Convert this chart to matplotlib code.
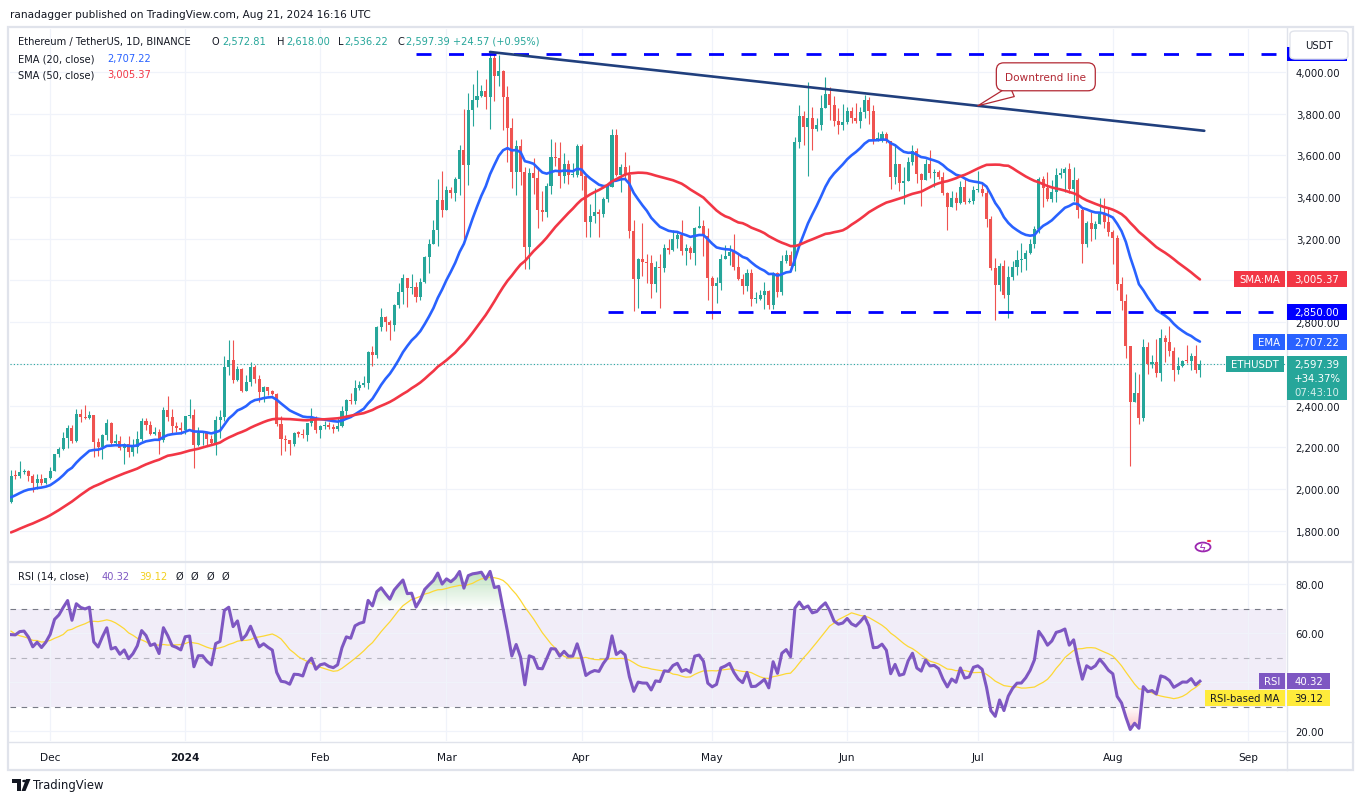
import numpy as np
import pandas as pd
import matplotlib
matplotlib.use("Agg")
import matplotlib.pyplot as plt
from matplotlib.patches import Rectangle, FancyBboxPatch, Circle, Polygon
from matplotlib.colors import LinearSegmentedColormap
from matplotlib.path import Path

plt.rcParams['font.family'] = ['DejaVu Sans']

W, H = 1362, 804

# ---------------- data (ETH/USDT daily) ----------------
start_date = "2023-11-22"
end_date = "2024-08-21"

# closes of Oct 1 - Nov 21 2023, only used to warm up EMA/SMA/RSI
warmup_close = [1733, 1663, 1655, 1647, 1611, 1645, 1633, 1633, 1580, 1567,
                1566, 1539, 1553, 1555, 1557, 1599, 1565, 1563, 1565, 1605,
                1628, 1665, 1768, 1786, 1785, 1801, 1778, 1776, 1792, 1809, 1815,
                1846, 1796, 1832, 1858, 1893, 1899, 1886, 1889, 2121, 2077,
                2053, 2045, 2055, 1980, 2058, 1960, 1961, 1962, 2012, 2022, 1937]

close = [
    # Nov
    2063, 2062, 2081, 2084, 2063, 2027, 2048, 2029, 2052,
    # Dec
    2087, 2166, 2193, 2243, 2294, 2232, 2358, 2345, 2340, 2353,
    2225, 2202, 2260, 2316, 2220, 2229, 2196, 2218, 2177, 2201,
    2240, 2327, 2307, 2265, 2274, 2233, 2381, 2346, 2300, 2292, 2281,
    # Jan
    2352, 2356, 2210, 2268, 2268, 2240, 2222, 2331, 2344, 2585,
    2618, 2524, 2576, 2472, 2511, 2587, 2528, 2467, 2490, 2470,
    2454, 2311, 2241, 2235, 2218, 2268, 2266, 2257, 2317, 2343, 2283,
    # Feb
    2304, 2309, 2296, 2290, 2301, 2372, 2425, 2420, 2486, 2500,
    2507, 2659, 2641, 2777, 2823, 2803, 2785, 2881, 2945, 3014,
    2966, 2971, 2922, 2992, 3112, 3176, 3243, 3385, 3340,
    # Mar
    3433, 3421, 3488, 3628, 3554, 3818, 3867, 3885, 3910, 3878,
    4066, 3983, 4005, 3882, 3730, 3520, 3644, 3520, 3159, 3516,
    3492, 3336, 3329, 3455, 3590, 3586, 3502, 3561, 3508, 3508, 3647,
    # Apr
    3503, 3279, 3311, 3330, 3319, 3393, 3450, 3697, 3505, 3544,
    3505, 3238, 3005, 3101, 3087, 3085, 2985, 3067, 3058, 3154,
    3148, 3199, 3218, 3141, 3155, 3130, 3254, 3263, 3215, 3012,
    # May
    2972, 2988, 3103, 3117, 3136, 3063, 3006, 2974, 3036, 2910,
    2912, 2930, 2950, 2881, 3037, 2945, 3093, 3123, 3071, 3662,
    3788, 3738, 3780, 3727, 3748, 3826, 3893, 3841, 3767, 3746, 3760,
    # Jun
    3813, 3780, 3767, 3810, 3865, 3813, 3678, 3681, 3705, 3668,
    3498, 3561, 3470, 3478, 3566, 3621, 3509, 3484, 3559, 3515,
    3518, 3495, 3418, 3354, 3396, 3371, 3449, 3375, 3381, 3433,
    # Jul
    3441, 3420, 3296, 3058, 2980, 3068, 2930, 3017, 3067, 3100,
    3101, 3132, 3177, 3245, 3485, 3443, 3389, 3426, 3505, 3517,
    3536, 3439, 3482, 3337, 3174, 3275, 3249, 3270, 3318, 3279, 3232,
    # Aug
    3204, 2985, 2904, 2687, 2418, 2460, 2341, 2682, 2598, 2608,
    2555, 2722, 2703, 2662, 2571, 2592, 2614, 2612, 2637, 2572.82, 2597.39,
]

high = [
    2090, 2091, 2133, 2095, 2092, 2070, 2071, 2070, 2055,
    2105, 2170, 2200, 2273, 2308, 2308, 2386, 2384, 2404, 2375,
    2355, 2243, 2262, 2334, 2320, 2265, 2253, 2223, 2256, 2242,
    2280, 2340, 2339, 2325, 2297, 2290, 2391, 2445, 2386, 2320, 2322,
    2352, 2431, 2385, 2295, 2280, 2270, 2260, 2350, 2380, 2640,
    2717, 2715, 2590, 2580, 2545, 2611, 2593, 2547, 2493, 2475,
    2475, 2460, 2349, 2257, 2236, 2273, 2280, 2290, 2317, 2390, 2352,
    2307, 2328, 2320, 2310, 2342, 2398, 2433, 2461, 2521, 2516,
    2542, 2664, 2688, 2784, 2866, 2832, 2812, 2888, 2986, 3033,
    3013, 3033, 2993, 3011, 3118, 3199, 3288, 3488, 3523,
    3451, 3448, 3495, 3650, 3823, 3900, 3942, 4010, 3936, 3966,
    4087, 4093, 4083, 4010, 3934, 3780, 3676, 3680, 3545, 3540,
    3589, 3542, 3431, 3468, 3678, 3664, 3665, 3612, 3580, 3563, 3653,
    3655, 3507, 3368, 3444, 3345, 3401, 3466, 3728, 3725, 3557,
    3616, 3555, 3288, 3110, 3278, 3125, 3123, 3092, 3128, 3175,
    3200, 3240, 3233, 3292, 3174, 3166, 3258, 3356, 3288, 3250,
    3022, 3016, 3128, 3171, 3170, 3222, 3130, 3030, 3057, 3053,
    2945, 2955, 2995, 2955, 3041, 3043, 3120, 3146, 3140, 3690,
    3841, 3813, 3950, 3830, 3780, 3890, 3975, 3928, 3884, 3825, 3847,
    3833, 3830, 3850, 3832, 3888, 3880, 3840, 3710, 3718, 3713,
    3670, 3656, 3560, 3542, 3590, 3649, 3635, 3516, 3582, 3627,
    3536, 3530, 3518, 3424, 3430, 3424, 3475, 3490, 3397, 3455,
    3524, 3464, 3434, 3311, 3108, 3082, 3097, 3068, 3094, 3146,
    3180, 3148, 3199, 3263, 3497, 3500, 3518, 3484, 3541, 3538,
    3544, 3563, 3543, 3491, 3346, 3285, 3327, 3283, 3397, 3395, 3350,
    3240, 3219, 3015, 2933, 2687, 2559, 2553, 2720, 2705, 2643,
    2720, 2765, 2740, 2780, 2679, 2631, 2618, 2690, 2650, 2690, 2618,
]

low = [
    1932, 2050, 2055, 2074, 2040, 1988, 1999, 2019, 2023,
    2049, 2085, 2152, 2188, 2196, 2220, 2226, 2320, 2338, 2335,
    2155, 2157, 2143, 2233, 2212, 2211, 2188, 2118, 2155, 2156,
    2175, 2230, 2282, 2257, 2257, 2168, 2225, 2325, 2267, 2275, 2263,
    2266, 2341, 2100, 2205, 2213, 2205, 2215, 2162, 2247, 2325,
    2545, 2510, 2518, 2466, 2470, 2495, 2507, 2419, 2418, 2450,
    2450, 2300, 2165, 2180, 2165, 2204, 2251, 2243, 2231, 2300, 2270,
    2243, 2288, 2288, 2267, 2277, 2295, 2342, 2408, 2410, 2473,
    2491, 2481, 2588, 2626, 2757, 2760, 2717, 2760, 2868, 2887,
    2873, 2934, 2899, 2907, 2988, 3035, 3173, 3166, 3306,
    3340, 3395, 3381, 3412, 3200, 3460, 3740, 3830, 3878, 3823,
    3728, 3860, 3932, 3720, 3570, 3444, 3408, 3456, 3053, 3056,
    3413, 3251, 3287, 3303, 3416, 3549, 3445, 3466, 3461, 3495, 3498,
    3435, 3210, 3209, 3275, 3211, 3305, 3377, 3447, 3500, 3425,
    3480, 3203, 2852, 2870, 3022, 2988, 2916, 2945, 2868, 3040,
    3125, 3142, 3158, 3120, 3076, 3105, 3075, 3252, 3117, 2908,
    2817, 2892, 2955, 3102, 3075, 3050, 3000, 2936, 2952, 2880,
    2890, 2906, 2863, 2863, 2864, 2921, 2930, 3085, 3060, 3046,
    3636, 3650, 3500, 3628, 3715, 3720, 3827, 3772, 3740, 3702, 3723,
    3752, 3753, 3753, 3730, 3781, 3750, 3655, 3667, 3666, 3658,
    3438, 3465, 3430, 3368, 3475, 3552, 3470, 3356, 3480, 3490,
    3447, 3485, 3410, 3240, 3355, 3336, 3369, 3365, 3373, 3366,
    3424, 3405, 3255, 3051, 2810, 2950, 2918, 2822, 3000, 3026,
    3040, 3048, 3125, 3157, 3230, 3353, 3380, 3376, 3375, 3491,
    3425, 3420, 3383, 3300, 3085, 3162, 3188, 3201, 3297, 3252, 3213,
    3080, 2955, 2860, 2630, 2111, 2417, 2310, 2324, 2553, 2578,
    2535, 2520, 2610, 2640, 2519, 2550, 2585, 2606, 2570, 2558, 2536.22,
]

# values shown in the legend / price-scale labels
ohlc_text = ["2,572.81", "2,618.00", "2,536.22", "2,597.39 +24.57 (+0.95%)"]
ema_shown, sma_shown = 2707.22, 3005.37
rsi_shown, rsi_ma_shown = 40.32, 39.12
last_price, change_pct, countdown = 2597.39, "+34.37%", "07:43:10"

# drawn levels
resistance = ("2024-02-23", 4086)
support = ("2024-04-07", 2850)
trend_start = ("2024-03-11", 4096)
trend_end = ("2024-08-22", 3718)
note_date = "2024-07-01"

# ---------------- indicators ----------------
dates = pd.date_range(start_date, end_date, freq="D")
n = len(dates)
full = pd.Series(warmup_close + close, dtype=float)
ema20 = full.ewm(span=20, adjust=False).mean().values[-n:]
sma50 = full.rolling(50).mean().values[-n:]
delta = full.diff()
gain = delta.clip(lower=0).ewm(alpha=1 / 14, adjust=False).mean()
loss = (-delta.clip(upper=0)).ewm(alpha=1 / 14, adjust=False).mean()
rsi_full = 100 - 100 / (1 + gain / loss)
rsi = rsi_full.values[-n:]
rsi_ma = rsi_full.rolling(14).mean().values[-n:]

c = np.array(close, dtype=float)
o = full.values[-n - 1:-1]
h = np.maximum(np.array(high, dtype=float), np.maximum(o, c))
l = np.minimum(np.array(low, dtype=float), np.minimum(o, c))
x = np.arange(n)


def day(d):
    return (pd.Timestamp(d) - dates[0]).days


UP, DN = '#26a69a', '#ef5350'
TXT = '#131722'
GRID = '#f0f3fa'
BORDER = '#e0e3eb'
FS = 7.3

fig = plt.figure(figsize=(W / 100, H / 100), dpi=100)


def rect(x0, y0, x1, y1):
    return [x0 / W, 1 - y1 / H, (x1 - x0) / W, (y1 - y0) / H]


xlim = ((10 - 11) / 4.355, (1286 - 11) / 4.355)

# ---------------- price pane ----------------
ax = fig.add_axes(rect(10, 30, 1286, 562))
ax.set_xlim(*xlim)
ax.set_ylim(1654.7, 4206.2)
for s in ax.spines.values():
    s.set_visible(False)
month_ticks = pd.date_range("2023-12-01", "2024-09-01", freq="MS")
tick_idx = [day(d) for d in month_ticks]
ax.set_xticks(tick_idx)
ax.tick_params(axis='x', length=0, labelbottom=False)
ax.yaxis.tick_right()
ax.set_yticks(np.arange(1800, 4001, 200))
ax.set_yticklabels([f"{v:,.2f}" for v in np.arange(1800, 4001, 200)])
ax.tick_params(axis='y', length=0, pad=7, labelsize=FS, labelcolor=TXT)
ax.grid(color=GRID, lw=0.9)
ax.set_axisbelow(True)

cols = np.where(c >= o, UP, DN)
ax.vlines(x, l, h, colors=cols, lw=0.8, zorder=2)
ax.bar(x, np.maximum(np.abs(c - o), 5), bottom=np.minimum(o, c), width=0.7,
       color=cols, lw=0, zorder=3)

ax.plot(x, ema20, color='#2962ff', lw=1.9, zorder=4, solid_capstyle='round')
ax.plot(x, sma50, color='#f23645', lw=1.9, zorder=4, solid_capstyle='round')

ax.axhline(last_price, color=UP, lw=0.8, ls=(0, (1, 2)), zorder=1)

ax.plot([day(resistance[0]), xlim[1]], [resistance[1]] * 2, color='#0000ff', lw=2,
        dashes=(5.4, 6.3), zorder=5)
ax.plot([day(support[0]), xlim[1]], [support[1]] * 2, color='#0000ff', lw=2,
        dashes=(5.4, 6.3), zorder=5)
tx = [day(trend_start[0]), day(trend_end[0])]
ty = [trend_start[1], trend_end[1]]
ax.plot(tx, ty, color='#203f7d', lw=1.9, zorder=5, solid_capstyle='round')

nx = day(note_date)
ax.annotate("Downtrend line", xy=(nx, np.interp(nx, tx, ty)), xytext=(68, 29),
            textcoords='offset pixels', ha='center', va='center', fontsize=7.6,
            color='#b22833', zorder=6,
            bbox=dict(boxstyle='round,pad=0.85,rounding_size=0.7', fc='white',
                      ec='#b22833', lw=0.9),
            arrowprops=dict(arrowstyle='wedge,tail_width=1.1,shrink_factor=0.5',
                            fc='white', ec='#b22833', lw=0.9, shrinkA=0, shrinkB=0))

# ---------------- RSI pane ----------------
ax2 = fig.add_axes(rect(10, 563, 1286, 742))
ax2.set_xlim(*xlim)
ax2.set_ylim(15.92, 88.98)
for s in ax2.spines.values():
    s.set_visible(False)
ax2.set_xticks(tick_idx)
labels = ["2024" if d.month == 1 else d.strftime("%b") for d in month_ticks]
ax2.set_xticklabels(labels)
for t, d in zip(ax2.get_xticklabels(), month_ticks):
    if d.month == 1:
        t.set_fontweight('bold')
ax2.tick_params(axis='x', length=0, pad=8, labelsize=FS + 0.3, labelcolor=TXT)
ax2.yaxis.tick_right()
ax2.set_yticks([20, 40, 60, 80])
ax2.set_yticklabels(["20.00", "40.00", "60.00", "80.00"])
ax2.tick_params(axis='y', length=0, pad=7, labelsize=FS, labelcolor=TXT)
ax2.grid(color=GRID, lw=0.9)
ax2.set_axisbelow(True)

ax2.axhspan(30, 70, color='#7e57c2', alpha=0.1, lw=0, zorder=0.5)
for lev, a in [(70, 1), (50, 0.5), (30, 1)]:
    ax2.axhline(lev, color='#787b86', lw=0.8, dashes=(5, 5), alpha=a, zorder=1)

for cond, base, top, rgb in [(rsi >= 70, 70, 88.98, (0.3, 0.69, 0.31)),
                              (rsi <= 30, 30, 15.92, (0.95, 0.21, 0.27))]:
    pc = ax2.fill_between(x, base, rsi, where=cond, interpolate=True, color='none', lw=0)
    paths = pc.get_paths()
    if paths:
        cm = LinearSegmentedColormap.from_list('g', [rgb + (0.0,), rgb + (0.45,)])
        grad = np.linspace(0, 1, 128)[:, None]
        im = ax2.imshow(grad, extent=[x[0], x[-1], base, top], origin='lower',
                        aspect='auto', cmap=cm, zorder=1.5, interpolation='bilinear')
        im.set_clip_path(Path.make_compound_path(*paths), ax2.transData)
ax2.set_xlim(*xlim)
ax2.set_ylim(15.92, 88.98)

ax2.plot(x, rsi_ma, color='#fdd835', lw=0.9, zorder=3)
ax2.plot(x, rsi, color='#7e57c2', lw=2.2, zorder=4, solid_joinstyle='round')

# ---------------- frame & separators ----------------
def fline(xs, ys, **kw):
    fig.add_artist(plt.Line2D([v / W for v in xs], [1 - v / H for v in ys], **kw))


fig.add_artist(Rectangle((8 / W, 1 - 771 / H), 1345 / W, 743 / H, transform=fig.transFigure,
                         fill=False, ec=BORDER, lw=1.6, zorder=8))
fline([1286.5, 1286.5], [28, 771], color=BORDER, lw=1, zorder=8)
fline([8, 1353], [562.5, 562.5], color=BORDER, lw=1.6, zorder=8)
fline([8, 1353], [742.5, 742.5], color=BORDER, lw=1, zorder=8)


def ypx(axis, v):
    return H - axis.transData.transform((0, v))[1]


def box(x0, x1, yc, hgt, fc, txt, tc, fs=FS, ha='center', z=9):
    fig.add_artist(Rectangle((x0 / W, 1 - (yc + hgt / 2) / H), (x1 - x0) / W, hgt / H,
                             transform=fig.transFigure, fc=fc, ec='none', zorder=z))
    if txt:
        fig.text(((x0 + x1) / 2) / W, 1 - yc / H, txt, ha='center', va='center',
                 color=tc, fontsize=fs, zorder=z + 0.5)


# price scale labels (the resistance label is mostly hidden under the USDT button)
box(1287, 1347, ypx(ax, resistance[1]), 14, '#0000ff', "", 'white')
fig.add_artist(FancyBboxPatch((1290 / W, 1 - 60 / H), 58 / W, 28 / H,
                              boxstyle='round,pad=0,rounding_size=0.004',
                              transform=fig.transFigure, fc='white', ec=BORDER,
                              lw=1, zorder=10))
fig.text(1319 / W, 1 - 46 / H, "USDT", ha='center', va='center', color=TXT,
         fontsize=FS, zorder=11)

y_sma = ypx(ax, sma_shown)
box(1234, 1285, y_sma, 16, '#f23645', "SMA:MA", 'white')
box(1287, 1347, y_sma, 16, '#f23645', f"{sma_shown:,.2f}", 'white')
box(1287, 1347, ypx(ax, support[1]), 16, '#0000ff', f"{support[1]:,.2f}", 'white')
y_ema = ypx(ax, ema_shown)
box(1253, 1285, y_ema, 16, '#2962ff', "EMA", 'white')
box(1287, 1347, y_ema, 16, '#2962ff', f"{ema_shown:,.2f}", 'white')
y_px = ypx(ax, last_price)
box(1226, 1284, y_px, 16, UP, "ETHUSDT", 'white')
box(1287, 1347, y_px + 14, 44, UP, "", 'white')
fig.text(1317 / W, 1 - y_px / H, f"{last_price:,.2f}", ha='center', va='center',
         color='white', fontsize=FS, zorder=10)
fig.text(1317 / W, 1 - (y_px + 14) / H, change_pct, ha='center', va='center',
         color='white', fontsize=FS, zorder=10)
fig.text(1317 / W, 1 - (y_px + 28) / H, countdown, ha='center', va='center',
         color='#d5efec', fontsize=FS, zorder=10)

y_rsi = ypx(ax2, rsi_shown)
box(1259, 1285, y_rsi, 16, '#7e57c2', "RSI", 'white')
box(1287, 1330, y_rsi, 16, '#7e57c2', f"{rsi_shown:.2f}", 'white')
box(1205, 1285, y_rsi + 17, 16, '#ffeb3b', "RSI-based MA", TXT)
box(1287, 1330, y_rsi + 17, 16, '#ffeb3b', f"{rsi_ma_shown:.2f}", TXT)

# ---------------- texts ----------------
def ft(xp, yp, s, color=TXT, fs=FS, **kw):
    fig.text(xp / W, 1 - yp / H, s, color=color, fontsize=fs, va='center', **kw)


ft(10, 15, "ranadagger published on TradingView.com, Aug 21, 2024 16:16 UTC", fs=7.6)
ft(18, 42, "Ethereum / TetherUS, 1D, BINANCE", fs=7.1)
for lab, xl, val, xv in [("O", 212, ohlc_text[0], 222), ("H", 277, ohlc_text[1], 286),
                         ("L", 338, ohlc_text[2], 344), ("C", 398, ohlc_text[3], 406)]:
    ft(xl, 42, lab, fs=7.1)
    ft(xv, 42, val, color=UP, fs=7.1)
ft(18, 59, "EMA (20, close)", fs=7.1)
ft(107, 59, f"{ema_shown:,.2f}", color='#2962ff', fs=7.1)
ft(18, 75, "SMA (50, close)", fs=7.1)
ft(107, 75, f"{sma_shown:,.2f}", color='#f23645', fs=7.1)
ft(18, 577, "RSI (14, close)", fs=7.1)
ft(102, 577, f"{rsi_shown:.2f}", color='#7e57c2', fs=7.1)
ft(139, 577, f"{rsi_ma_shown:.2f}", color='#f2cf1d', fs=7.1)
for xs in (176, 191, 207, 222):
    ft(xs, 577, "Ø", fs=7.1)

# lightning icon
fig.add_artist(Circle((1203 / W, 1 - 548 / H), 7.5 / W, transform=fig.transFigure,
                      fill=False, ec='#9c27b0', lw=1.3, zorder=9))
fig.text(1203 / W, 1 - 548.5 / H, "ϟ", color='#9c27b0', fontsize=8, ha='center',
         va='center', zorder=10)
fig.add_artist(Circle((1209 / W, 1 - 542 / H), 2.6 / W, transform=fig.transFigure,
                      fc='#f23645', ec='white', lw=0.6, zorder=10))

# footer logo
for pts in ([(12, 780), (21, 780), (21, 784), (12, 784)],
            [(17, 780), (21, 780), (21, 792), (17, 792)],
            [(26, 780), (30.5, 780), (25.5, 792), (21.5, 792)]):
    fig.add_artist(Polygon([(px / W, 1 - py / H) for px, py in pts], closed=True,
                           transform=fig.transFigure, fc=TXT, ec='none'))
fig.add_artist(Circle((24.3 / W, 1 - 782 / H), 2.1 / W, transform=fig.transFigure,
                      fc=TXT, ec='none'))
ft(33, 786, "TradingView", fs=8.4)

fig.savefig("out.png", dpi=100)
